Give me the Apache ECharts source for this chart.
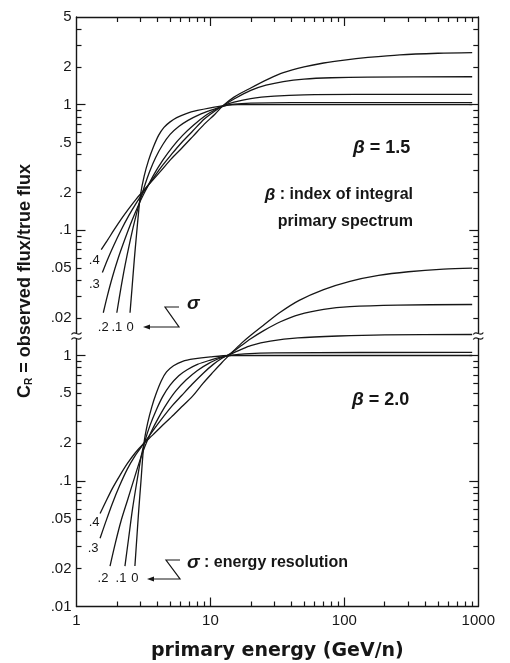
<!DOCTYPE html>
<html>
<head>
<meta charset="utf-8">
<script src="https://cdn.jsdelivr.net/npm/echarts@6/dist/echarts.min.js"></script>
<style>
  html, body { margin: 0; padding: 0; background: #fff; }
  #chart { width: 510px; height: 663px; }
</style>
</head>
<body>
<div id="chart"></div>
<script>
// Energy axis (GeV/n)
const energyTicksMinor = [2, 3, 4, 5, 6, 7, 8, 9, 20, 30, 40, 50, 60, 70, 80, 90, 200, 300, 400, 500, 600, 700, 800, 900];
const energyTicksMajor = [10, 100];
const energyLabels = [1, 10, 100, 1000];

// Ratio axes, upper panel (beta = 1.5)
const ratioTicksMinorTop = [4, 3, 2, 0.9, 0.8, 0.7, 0.6, 0.5, 0.4, 0.3, 0.2, 0.09, 0.08, 0.07, 0.06, 0.05, 0.04, 0.03, 0.02];
const ratioTicksMajorTop = [1, 0.1];
const ratioLabelsTop = [5, 2, 1, 0.5, 0.2, 0.1, 0.05, 0.02];

// Ratio axes, lower panel (beta = 2.0)
const ratioTicksMinorBottom = [0.9, 0.8, 0.7, 0.6, 0.5, 0.4, 0.3, 0.2, 0.09, 0.08, 0.07, 0.06, 0.05, 0.04, 0.03, 0.02];
const ratioTicksMajorBottom = [1, 0.1];
const ratioLabelsBottom = [1, 0.5, 0.2, 0.1, 0.05, 0.02, 0.01];

// Curve labels (energy resolution sigma)
const sigmaLabels = ['0', '.1', '.2', '.3', '.4'];

// C_R vs primary energy, beta = 1.5
const b15_s0 = [[2.51,0.022],[2.6,0.035],[2.7,0.058],[2.8,0.09],[2.9,0.135],[3.0,0.19],[3.2,0.27],[3.45,0.36],[3.75,0.46],[4.1,0.57],[4.5,0.66],[5.0,0.73],[5.6,0.79],[6.6,0.85],[8.0,0.9],[10,0.945],[12.4,0.98],[16,1.0],[30,1.0],[900,1.0]];
const b15_s1 = [[2.0,0.022],[2.15,0.035],[2.3,0.052],[2.5,0.08],[2.7,0.115],[2.95,0.165],[3.2,0.22],[3.5,0.29],[3.9,0.38],[4.4,0.48],[5.0,0.58],[5.8,0.67],[6.8,0.75],[8.2,0.83],[10,0.9],[12.4,0.97],[15,1.01],[20,1.03],[40,1.04],[900,1.04]];
const b15_s2 = [[1.585,0.022],[1.7,0.03],[1.85,0.042],[2.05,0.06],[2.3,0.085],[2.6,0.12],[2.95,0.165],[3.3,0.21],[3.8,0.28],[4.4,0.36],[5.2,0.46],[6.2,0.57],[7.5,0.69],[9.2,0.82],[11,0.92],[12.4,0.98],[15,1.05],[20,1.12],[30,1.17],[50,1.2],[120,1.21],[900,1.21]];
const b15_s3 = [[1.56,0.046],[1.7,0.058],[1.9,0.076],[2.15,0.1],[2.45,0.13],[2.8,0.165],[3.2,0.205],[3.7,0.255],[4.3,0.32],[5.1,0.4],[6.1,0.5],[7.4,0.62],[9,0.77],[10.8,0.89],[12.4,0.98],[15,1.11],[20,1.3],[26,1.43],[35,1.53],[50,1.6],[80,1.64],[150,1.66],[900,1.67]];
const b15_s4 = [[1.53,0.07],[1.7,0.083],[1.9,0.1],[2.15,0.122],[2.45,0.148],[2.8,0.178],[3.2,0.21],[3.7,0.25],[4.3,0.3],[5.1,0.37],[6.1,0.45],[7.4,0.56],[9,0.7],[10.8,0.84],[12.4,0.98],[15,1.15],[20,1.36],[27,1.6],[35,1.8],[50,2.0],[70,2.15],[100,2.27],[150,2.38],[260,2.5],[500,2.57],[900,2.6]];

// C_R vs primary energy, beta = 2.0
const b20_s0 = [[2.73,0.021],[2.82,0.035],[2.92,0.06],[3.03,0.1],[3.19,0.2],[3.4,0.29],[3.65,0.39],[3.94,0.5],[4.3,0.63],[4.7,0.74],[5.3,0.83],[6.2,0.9],[7.5,0.94],[10,0.975],[14,1.0],[30,1.0],[900,1.0]];
const b20_s1 = [[2.3,0.021],[2.45,0.035],[2.62,0.06],[2.85,0.105],[3.05,0.16],[3.25,0.21],[3.55,0.28],[3.95,0.37],[4.4,0.47],[5,0.58],[5.8,0.69],[6.7,0.77],[8,0.85],[10,0.92],[12,0.97],[14,1.0],[18,1.03],[30,1.05],[900,1.06]];
const b20_s2 = [[1.78,0.021],[1.95,0.032],[2.15,0.048],[2.4,0.07],[2.7,0.105],[3.0,0.15],[3.25,0.19],[3.6,0.245],[4.1,0.32],[4.7,0.41],[5.5,0.52],[6.6,0.64],[8,0.76],[9.8,0.87],[12,0.96],[14,1.02],[17,1.12],[20,1.2],[28,1.3],[45,1.38],[90,1.43],[200,1.46],[900,1.47]];
const b20_s3 = [[1.5,0.035],[1.65,0.047],[1.85,0.066],[2.1,0.092],[2.4,0.125],[2.75,0.16],[3.19,0.2],[3.7,0.25],[4.3,0.31],[5.1,0.39],[6.1,0.48],[7.3,0.59],[8.8,0.72],[10.5,0.85],[12.2,0.95],[14,1.03],[17,1.2],[20,1.36],[25,1.58],[33,1.85],[46,2.12],[70,2.33],[110,2.45],[250,2.52],[900,2.55]];
const b20_s4 = [[1.5,0.055],[1.65,0.068],[1.85,0.087],[2.1,0.11],[2.4,0.138],[2.75,0.168],[3.19,0.2],[3.7,0.232],[4.3,0.272],[5.1,0.323],[6.1,0.39],[7.3,0.47],[8.8,0.6],[10.5,0.74],[12.2,0.88],[14,1.02],[17,1.25],[20,1.45],[25,1.75],[33,2.2],[46,2.75],[70,3.35],[110,3.9],[180,4.35],[300,4.65],[550,4.88],[900,4.97]];

const INK = '#161616';
const axisLineStyle = { color: INK, width: 1.4 };
const tickFont = { fontFamily: 'Liberation Sans, Arial, sans-serif', fontSize: 15, color: INK };

const fmtRatio = v => {
  const s = String(+Number(v).toPrecision(6));
  return s.startsWith('0.') ? s.slice(1) : s;
};

function xAxes(gridIndex, position, withLabels) {
  const common = { type: 'log', logBase: 10, gridIndex, min: 1, max: 1000, position, splitLine: { show: false } };
  return [
    Object.assign({}, common, {
      axisLine: { show: true, onZero: false, lineStyle: axisLineStyle },
      axisTick: { show: true, inside: true, length: 5, customValues: energyTicksMinor, lineStyle: { color: INK, width: 1.2 } },
      axisLabel: withLabels
        ? Object.assign({ show: true, customValues: energyLabels, margin: 7, formatter: v => String(Math.round(v)) }, tickFont)
        : { show: false },
      name: withLabels ? 'primary energy (GeV/n)' : '',
      nameLocation: 'middle',
      nameGap: 35,
      nameTextStyle: { fontFamily: 'DejaVu Sans, sans-serif', fontWeight: 'bold', fontSize: 19, color: INK }
    }),
    Object.assign({}, common, {
      axisLine: { show: false, onZero: false },
      axisTick: { show: true, inside: true, length: 9, customValues: energyTicksMajor, lineStyle: { color: INK, width: 1.2 } },
      axisLabel: { show: false }
    })
  ];
}

function yAxes(gridIndex, min, max, minor, major, labels) {
  const common = { type: 'log', logBase: 10, gridIndex, min, max, splitLine: { show: false } };
  const tickLine = { color: INK, width: 1.2 };
  return [
    Object.assign({}, common, {
      position: 'left',
      axisLine: { show: true, onZero: false, lineStyle: axisLineStyle },
      axisTick: { show: true, inside: true, length: 5, customValues: minor, lineStyle: tickLine },
      axisLabel: Object.assign({ show: true, customValues: labels, margin: 5, formatter: fmtRatio }, tickFont)
    }),
    Object.assign({}, common, {
      position: 'left',
      axisLine: { show: false, onZero: false },
      axisTick: { show: true, inside: true, length: 9, customValues: major, lineStyle: tickLine },
      axisLabel: { show: false }
    }),
    Object.assign({}, common, {
      position: 'right',
      axisLine: { show: true, onZero: false, lineStyle: axisLineStyle },
      axisTick: { show: true, inside: true, length: 5, customValues: minor, lineStyle: tickLine },
      axisLabel: { show: false }
    }),
    Object.assign({}, common, {
      position: 'right',
      axisLine: { show: false, onZero: false },
      axisTick: { show: true, inside: true, length: 9, customValues: major, lineStyle: tickLine },
      axisLabel: { show: false }
    })
  ];
}

// each curve carries its sigma label at its low-energy end
function curve(points, label, xIndex, yIndex, offset) {
  const data = points.map((p, i) => i === 0 ? {
    value: p,
    symbol: 'circle',
    symbolSize: 2,
    itemStyle: { color: 'rgba(0,0,0,0)', borderWidth: 0 },
    label: {
      show: true, formatter: label, position: 'inside', offset, opacity: 1,
      fontFamily: 'Liberation Sans, Arial, sans-serif', fontSize: 13, color: INK
    }
  } : p);
  return {
    type: 'line', xAxisIndex: xIndex, yAxisIndex: yIndex, data,
    symbol: 'none', showSymbol: true, smooth: 0.3, clip: false, silent: true,
    lineStyle: { color: INK, width: 1.3 }
  };
}

const topCurves = [b15_s0, b15_s1, b15_s2, b15_s3, b15_s4];
const bottomCurves = [b20_s0, b20_s1, b20_s2, b20_s3, b20_s4];
const topOffsets = [[0, 15], [0, 15], [0, 15], [-8, 12], [-7, 11]];
const bottomOffsets = [[0, 12], [-4, 12], [-7, 12], [-7, 10], [-6, 9]];

const series = [];
topCurves.forEach((c, i) => series.push(curve(c, sigmaLabels[i], 0, 0, topOffsets[i])));
bottomCurves.forEach((c, i) => series.push(curve(c, sigmaLabels[i], 2, 4, bottomOffsets[i])));

// small axis-break squiggles between the two panels
function squiggle(x, y) {
  return {
    type: 'bezierCurve', z: 50,
    shape: { x1: x - 5, y1: y + 1, cpx1: x - 2, cpy1: y - 4, cpx2: x + 2, cpy2: y + 4, x2: x + 5, y2: y - 1 },
    style: { stroke: INK, lineWidth: 1.2, fill: null }
  };
}

const annotFont = 'Liberation Sans, Arial, sans-serif';

const option = {
  animation: false,
  backgroundColor: '#fff',
  grid: [
    { left: 76.5, right: 31.7, top: 17, height: 316 },
    { left: 76.5, right: 31.7, top: 339, bottom: 56.5 }
  ],
  xAxis: [...xAxes(0, 'top', false), ...xAxes(1, 'bottom', true)],
  yAxis: [
    ...yAxes(0, 0.01517, 5, ratioTicksMinorTop, ratioTicksMajorTop, ratioLabelsTop),
    ...yAxes(1, 0.01, 1.354, ratioTicksMinorBottom, ratioTicksMajorBottom, ratioLabelsBottom)
  ],
  series,
  graphic: [
    squiggle(76.5, 333.5), squiggle(76.5, 338.5),
    squiggle(478.3, 333.5), squiggle(478.3, 338.5),
    {
      type: 'text', x: 23, y: 281, rotation: Math.PI / 2,
      style: {
        text: '{c|C}{r|R}{t| = observed flux/true flux}',
        align: 'center', verticalAlign: 'middle', fill: INK,
        rich: {
          c: { fontFamily: annotFont, fontWeight: 'bold', fontSize: 18, lineHeight: 22, verticalAlign: 'bottom', fill: INK },
          r: { fontFamily: annotFont, fontWeight: 'bold', fontSize: 10, lineHeight: 22, verticalAlign: 'bottom', fill: INK },
          t: { fontFamily: annotFont, fontWeight: 'bold', fontSize: 18, lineHeight: 22, verticalAlign: 'bottom', fill: INK }
        }
      }
    },
    {
      type: 'text', x: 353, y: 148,
      style: {
        text: '{b|β}{t| = 1.5}', align: 'left', verticalAlign: 'middle',
        rich: {
          b: { fontFamily: annotFont, fontStyle: 'italic', fontWeight: 'bold', fontSize: 19, fill: INK },
          t: { fontFamily: annotFont, fontWeight: 'bold', fontSize: 18, fill: INK }
        }
      }
    },
    {
      type: 'text', x: 413, y: 195,
      style: {
        text: '{b|β}{t| : index of integral}', align: 'right', verticalAlign: 'middle',
        rich: {
          b: { fontFamily: annotFont, fontStyle: 'italic', fontWeight: 'bold', fontSize: 17, fill: INK },
          t: { fontFamily: annotFont, fontWeight: 'bold', fontSize: 16, fill: INK }
        }
      }
    },
    {
      type: 'text', x: 413, y: 222,
      style: { text: 'primary spectrum', align: 'right', verticalAlign: 'middle', fontFamily: annotFont, fontWeight: 'bold', fontSize: 16, fill: INK }
    },
    {
      type: 'text', x: 352, y: 400,
      style: {
        text: '{b|β}{t| = 2.0}', align: 'left', verticalAlign: 'middle',
        rich: {
          b: { fontFamily: annotFont, fontStyle: 'italic', fontWeight: 'bold', fontSize: 19, fill: INK },
          t: { fontFamily: annotFont, fontWeight: 'bold', fontSize: 18, fill: INK }
        }
      }
    },
    {
      type: 'text', x: 187, y: 304,
      style: { text: 'σ', align: 'left', verticalAlign: 'middle', fontFamily: annotFont, fontStyle: 'italic', fontWeight: 'bold', fontSize: 19, fill: INK }
    },
    {
      type: 'polyline', shape: { points: [[179, 307], [165, 307], [179, 327], [148, 327]] },
      style: { stroke: INK, lineWidth: 1.2, fill: null }
    },
    { type: 'polygon', shape: { points: [[143, 327], [150, 324.6], [150, 329.4]] }, style: { fill: INK } },
    {
      type: 'text', x: 187, y: 563,
      style: {
        text: '{b|σ}{t| : energy resolution}', align: 'left', verticalAlign: 'middle',
        rich: {
          b: { fontFamily: annotFont, fontStyle: 'italic', fontWeight: 'bold', fontSize: 19, fill: INK },
          t: { fontFamily: annotFont, fontWeight: 'bold', fontSize: 16, fill: INK }
        }
      }
    },
    {
      type: 'polyline', shape: { points: [[180, 560], [166, 560], [180, 579], [152, 579]] },
      style: { stroke: INK, lineWidth: 1.2, fill: null }
    },
    { type: 'polygon', shape: { points: [[147, 579], [154, 576.6], [154, 581.4]] }, style: { fill: INK } }
  ]
};

const chart = echarts.init(document.getElementById('chart'), null, { renderer: 'canvas' });
chart.setOption(option);
</script>
</body>
</html>
